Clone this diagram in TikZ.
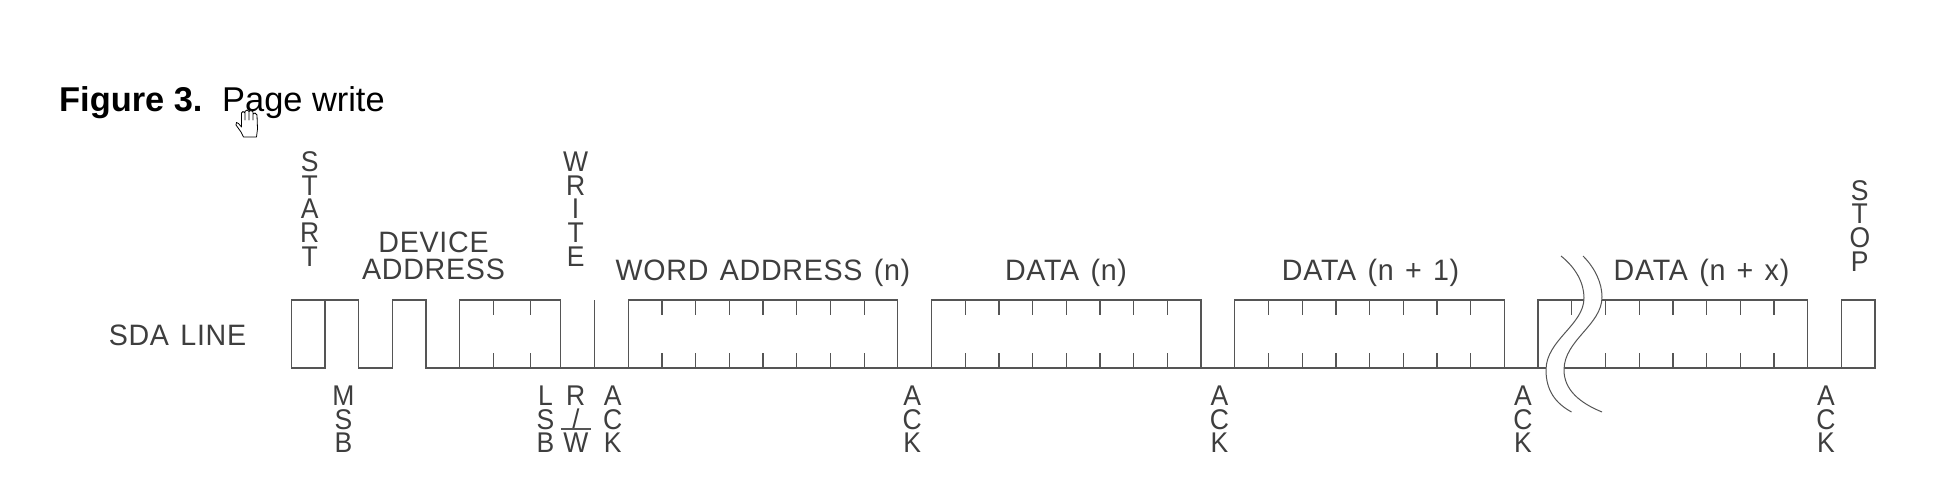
\documentclass[tikz,border=0pt]{standalone}
\usepackage{fontspec}
\setmainfont{Liberation Sans}
\newfontfamily\lblfont[LetterSpace=2.5,FakeStretch=0.97,WordSpace=1.3]{Liberation Sans}
\newfontfamily\stackfont[FakeStretch=0.93]{Liberation Sans}
\definecolor{inkgray}{HTML}{3E3E3E}
\definecolor{wavegray}{HTML}{555555}
\tikzset{
	lbl/.style={font=\lblfont\fontsize{29.5}{27.6}\selectfont,text=inkgray,inner sep=0pt,align=center,anchor=base},
	stack/.style={font=\stackfont\fontsize{28.5}{23.7}\selectfont,text=inkgray,inner sep=0pt,align=center,anchor=north},
	caption/.style={font=\fontsize{34.4}{34}\selectfont,text=black,inner sep=0pt,anchor=base west},
	wave/.style={draw=wavegray,line width=1.3pt,line join=miter},
	tick/.style={draw=wavegray,line width=1.2pt}
}
\begin{document}
\begin{tikzpicture}[x=1pt,y=-1pt]
	\useasboundingbox (0,0) rectangle (1960,494);
	\fill[white] (0,0) rectangle (1960,494);
	% caption
	\node[caption] (figno) at (59,111.5) {\textbf{Figure 3.}};
	\node[caption] (figname) at (222,111.5) {Page write};
	% waveform, one x unit per bit
	\begin{scope}[xshift=291.2pt,yshift=-368pt,x=33.7pt,y=68pt]
		\draw[wave] (0,0) -- (0,1) -- (2,1) -- (2,0) -- (3,0) -- (3,1) -- (4,1) -- (4,0) -- (47,0) -- (47,1) -- (46,1) -- (46,0);
		\draw[wave] (0,0) -- (1,0) -- (1,1);
		\draw[wave] (5,0) -- (5,1) -- (8,1) -- (8,0);
		\draw[wave] (9,0) -- (9,1);
		\foreach \i in {10,19,28,37}
		{
			\draw[wave] (\i,0) -- (\i,1) -- (\i+8,1) -- (\i+8,0);
		}
		\foreach \i in {6,7.1,11,12,...,17,20,21,...,26,29,30,...,35,38,39,...,44}
		{
			\draw[tick] (\i,1) -- (\i,0.78);
		}
		\foreach \i in {6,7.1,11,12,...,17,20,21,...,26,29,30,...,35,39,40,...,44}
		{
			\draw[tick] (\i,0) -- (\i,0.22);
		}
	\end{scope}
	% break in the line
	\fill[white] (1561,256) .. controls (1576,268) and (1584,283) .. (1584,298) .. controls (1584,325) and (1546,340) .. (1546,370) .. controls (1546,390) and (1555,403) .. (1571.5,412) -- (1602,412) .. controls (1580,403) and (1564,390) .. (1564,370) .. controls (1564,340) and (1602,325) .. (1602,297) .. controls (1602,283) and (1595,268) .. (1583,256) -- cycle;
	\draw[wavegray,line width=1pt] (1561,256) .. controls (1576,268) and (1584,283) .. (1584,298) .. controls (1584,325) and (1546,340) .. (1546,370) .. controls (1546,390) and (1555,403) .. (1571.5,412);
	\draw[wavegray,line width=1pt] (1583,256) .. controls (1595,268) and (1602,283) .. (1602,297) .. controls (1602,325) and (1564,340) .. (1564,370) .. controls (1564,390) and (1580,403) .. (1602,412);
	% labels
	\node[lbl] (sda) at (177.5,345.8) {SDA LINE};
	\node[lbl] (device) at (433.5,279.8) {DEVICE\\ADDRESS};
	\node[lbl] (word) at (763,280.5) {WORD ADDRESS (n)};
	\node[lbl] (datan) at (1066,280.5) {DATA (n)};
	\node[lbl] (datanone) at (1370.6,280.5) {DATA (n + 1)};
	\node[lbl] (datanx) at (1701.5,280.5) {DATA (n + x)};
	\node[stack] (start) at (309.8,151.5) {S\\T\\A\\R\\T};
	\node[stack] (write) at (575.6,151.5) {W\\R\\I\\T\\E};
	\node[stack] (stop) at (1859.8,180.2) {S\\T\\O\\P};
	\node[stack] (msb) at (343.4,385.5) {M\\S\\B};
	\node[stack] (lsb) at (545.5,385.5) {L\\S\\B};
	\node[stack] (rw) at (575.8,385.5) {R\\/\\W};
	\draw[wave] (561,429) -- (591,429);
	\foreach \x/\n in {612.8/a,912.3/b,1219.5/c,1523/d,1826/e}
	{
		\node[stack] (ack\n) at (\x,385.5) {A\\C\\K};
	}
	% cursor
	\draw[black,fill=white,line width=0.8pt,line join=round] (243.5,137) -- (241,132) -- (236,125) -- (236.5,122.5) -- (238.5,123.5) -- (241.5,127) -- (241.5,113) -- (243,111.5) -- (245,113) -- (245,120) -- (245,111.5) -- (247,110) -- (249,111.5) -- (249,120) -- (249,111.5) -- (251,110.5) -- (253,112) -- (253,120) -- (253,114) -- (255,113) -- (257,115) -- (257.5,129) -- (256.5,137) -- cycle;
\end{tikzpicture}
\end{document}
